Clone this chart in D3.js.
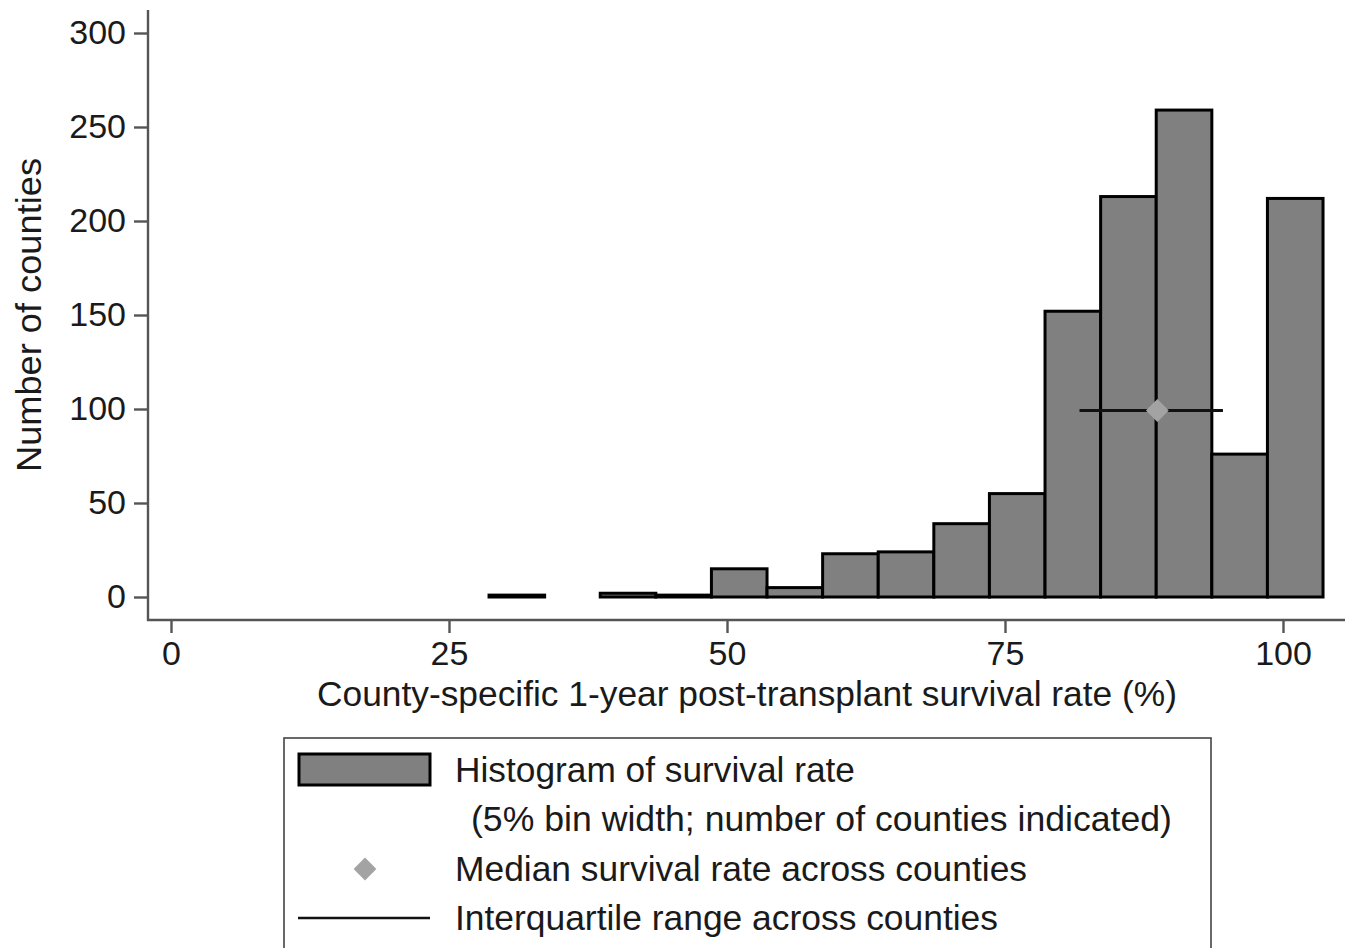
<!DOCTYPE html>
<html>
<head>
<meta charset="utf-8">
<script src="https://cdn.jsdelivr.net/npm/d3@7"></script>
<style>
  html, body { margin: 0; padding: 0; background: #fff; }
  svg { display: block; }
  text { font-family: "Liberation Sans", Arial, Helvetica, sans-serif; fill: #1a1a1a; }
</style>
</head>
<body>
<svg id="chart" width="1354" height="948"></svg>
<script>
// ---- data ----
const binStarts = [28.6, 33.6, 38.6, 43.6, 48.6, 53.6, 58.6, 63.6, 68.6, 73.6, 78.6, 83.6, 88.6, 93.6, 98.6];
const binWidth = 5;
const counts    = [1, 0, 2, 1, 15, 5, 23, 24, 39, 55, 152, 213, 259, 76, 212];
const medianRate = 88.7;
const iqrRange = [81.7, 94.6];
const summaryLevel = 100;
const xTicks = [0, 25, 50, 75, 100];
const yTicks = [0, 50, 100, 150, 200, 250, 300];
const xTitle = "County-specific 1-year post-transplant survival rate (%)";
const yTitle = "Number of counties";
const legendLabels = [
  "Histogram of survival rate",
  "(5% bin width; number of counties indicated)",
  "Median survival rate across counties",
  "Interquartile range across counties"
];

const svg = d3.select("#chart");
const x = d3.scaleLinear().domain([0, 100]).range([171, 1283]);
const y = d3.scaleLinear().domain([0, 300]).range([597, 33]);

const axisColor = "#555";

// bars
const bins = binStarts.map((s, i) => ({ x0: s, x1: s + binWidth, n: counts[i] }));
svg.append("g").selectAll("rect")
  .data(bins.filter(d => d.n > 0))
  .join("rect")
  .attr("x", d => x(d.x0))
  .attr("width", d => x(d.x1) - x(d.x0))
  .attr("y", d => y(d.n))
  .attr("height", d => y(0) - y(d.n))
  .attr("fill", "#808080")
  .attr("stroke", "#000")
  .attr("stroke-width", 3);

// IQR line
svg.append("line")
  .attr("x1", x(iqrRange[0])).attr("x2", x(iqrRange[1]))
  .attr("y1", y(summaryLevel) + 1.5).attr("y2", y(summaryLevel) + 1.5)
  .attr("stroke", "#111").attr("stroke-width", 2.8);

// median diamond
svg.append("path")
  .attr("d", d3.symbol().type(d3.symbolDiamond2).size(330)())
  .attr("transform", `translate(${x(medianRate)},${y(summaryLevel) + 1.5})`)
  .attr("fill", "#a3a3a3");

// y axis
const yAxis = d3.axisLeft(y).tickValues(yTicks).tickSize(14).tickPadding(8);
const gy = svg.append("g").attr("transform", "translate(148,0)").call(yAxis);
gy.select(".domain").remove();
gy.append("line").attr("x1", 0).attr("x2", 0).attr("y1", 10).attr("y2", 621)
  .attr("stroke", axisColor).attr("stroke-width", 2.4);
gy.selectAll(".tick line").attr("stroke", axisColor).attr("stroke-width", 2.4);
gy.selectAll(".tick text").attr("font-size", 34).attr("fill", "#1a1a1a")
  .attr("font-family", "'Liberation Sans', Arial, sans-serif");

// x axis
const xAxis = d3.axisBottom(x).tickValues(xTicks).tickSize(13).tickPadding(8);
const gx = svg.append("g").attr("transform", "translate(0,620)").call(xAxis);
gx.select(".domain").remove();
gx.append("line").attr("x1", 147).attr("x2", 1345).attr("y1", 0).attr("y2", 0)
  .attr("stroke", axisColor).attr("stroke-width", 2.4);
gx.selectAll(".tick line").attr("stroke", axisColor).attr("stroke-width", 2.4);
gx.selectAll(".tick text").attr("font-size", 34).attr("fill", "#1a1a1a")
  .attr("font-family", "'Liberation Sans', Arial, sans-serif");

// axis titles
svg.append("text")
  .attr("x", 747).attr("y", 706)
  .attr("text-anchor", "middle")
  .attr("font-size", 35)
  .attr("textLength", 860).attr("lengthAdjust", "spacingAndGlyphs")
  .text(xTitle);

svg.append("text")
  .attr("transform", "translate(41,315) rotate(-90)")
  .attr("text-anchor", "middle")
  .attr("font-size", 35)
  .attr("textLength", 314).attr("lengthAdjust", "spacingAndGlyphs")
  .text(yTitle);

// legend
const lg = svg.append("g");
lg.append("rect").attr("x", 284).attr("y", 738).attr("width", 927).attr("height", 230)
  .attr("fill", "#fff").attr("stroke", "#444").attr("stroke-width", 1.6);
lg.append("rect").attr("x", 299).attr("y", 754).attr("width", 131).attr("height", 31)
  .attr("fill", "#808080").attr("stroke", "#000").attr("stroke-width", 3);
lg.append("path")
  .attr("d", d3.symbol().type(d3.symbolDiamond2).size(330)())
  .attr("transform", "translate(365,869)")
  .attr("fill", "#a3a3a3");
lg.append("line").attr("x1", 298).attr("x2", 430).attr("y1", 918).attr("y2", 918)
  .attr("stroke", "#111").attr("stroke-width", 2.6);

const legendPos = [
  { x: 455, y: 782, w: 400 },
  { x: 471, y: 831, w: 701 },
  { x: 455, y: 881, w: 572 },
  { x: 455, y: 930, w: 543 }
];
legendLabels.forEach((t, i) => {
  lg.append("text")
    .attr("x", legendPos[i].x).attr("y", legendPos[i].y)
    .attr("font-size", 35)
    .attr("textLength", legendPos[i].w).attr("lengthAdjust", "spacingAndGlyphs")
    .text(t);
});
</script>
</body>
</html>
